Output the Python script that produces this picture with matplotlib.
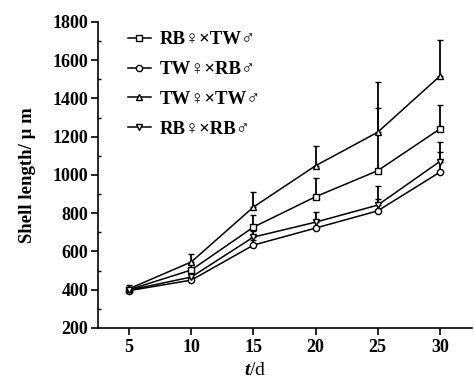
import matplotlib
matplotlib.use("Agg")
import matplotlib.pyplot as plt
from matplotlib.ticker import MultipleLocator

plt.rcParams['font.family'] = ['Liberation Serif', 'DejaVu Serif']
plt.rcParams['font.weight'] = 'bold'
plt.rcParams['mathtext.fontset'] = 'custom'
plt.rcParams['mathtext.it'] = 'Liberation Serif:italic'
plt.rcParams['mathtext.rm'] = 'Liberation Serif:bold'

days = [5, 10, 15, 20, 25, 30]
labels = ["RB\u2640\u00d7TW\u2642", "TW\u2640\u00d7RB\u2642", "TW\u2640\u00d7TW\u2642", "RB\u2640\u00d7RB\u2642"]
rb_tw = [400, 503, 727, 886, 1022, 1240]
rb_tw_err = [15, 30, 63, 97, 330, 125]
tw_rb = [395, 450, 633, 722, 812, 1014]
tw_rb_err = [10, 15, 25, 40, 60, 105]
tw_tw = [405, 545, 832, 1048, 1223, 1516]
tw_tw_err = [20, 40, 78, 105, 261, 190]
rb_rb = [398, 466, 675, 753, 842, 1070]
rb_rb_err = [10, 15, 30, 55, 100, 100]

series = [(rb_tw, rb_tw_err, 's'), (tw_rb, tw_rb_err, 'o'), (tw_tw, tw_tw_err, '^'), (rb_rb, rb_rb_err, 'v')]

fig = plt.figure(figsize=(4.74, 3.84), dpi=100)
ax = fig.add_axes([0.207, 0.146, 0.789, 0.797])

for (vals, err, m), lab in zip(series, labels):
    ax.errorbar(days, vals, yerr=[[0]*len(err), err], color='black', lw=1.1,
                marker=m, markersize=4.5, markerfacecolor='white', markeredgecolor='black',
                markeredgewidth=1.0, capsize=2.5, elinewidth=1.3, capthick=1.3, label=lab)

ax.set_xlim(2.5, 32.6)
ax.set_ylim(200, 1800)
ax.set_xticks(days)
ax.yaxis.set_major_locator(MultipleLocator(200))
ax.yaxis.set_minor_locator(MultipleLocator(100))
for s in ['top', 'right']:
    ax.spines[s].set_visible(False)
for s in ['left', 'bottom']:
    ax.spines[s].set_linewidth(1.2)
ax.tick_params(axis='both', which='major', direction='out', length=5, width=1.2, labelsize=13)
ax.tick_params(axis='y', which='major', pad=2)
ax.tick_params(axis='x', which='major', pad=3)
ax.tick_params(axis='y', which='minor', direction='in', length=2, width=1)
for t in ax.get_xticklabels() + ax.get_yticklabels():
    t.set_fontweight('bold')

ax.set_xlabel(r"$t$/d", fontsize=14)
ax.xaxis.set_label_coords(0.42, -0.112)
ax.set_ylabel("Shell length/ \u03bc m", fontsize=13.5, fontweight='bold', labelpad=12)

h, l = ax.get_legend_handles_labels()
h = [hh[0] for hh in h]
leg = ax.legend(h, l, loc='upper left', bbox_to_anchor=(0.035, 1.025), frameon=False,
                prop={'size': 13.5, 'weight': 'bold'}, labelspacing=0.68, handlelength=1.2,
                handletextpad=0.5)

fig.savefig("out.png", dpi=100)
